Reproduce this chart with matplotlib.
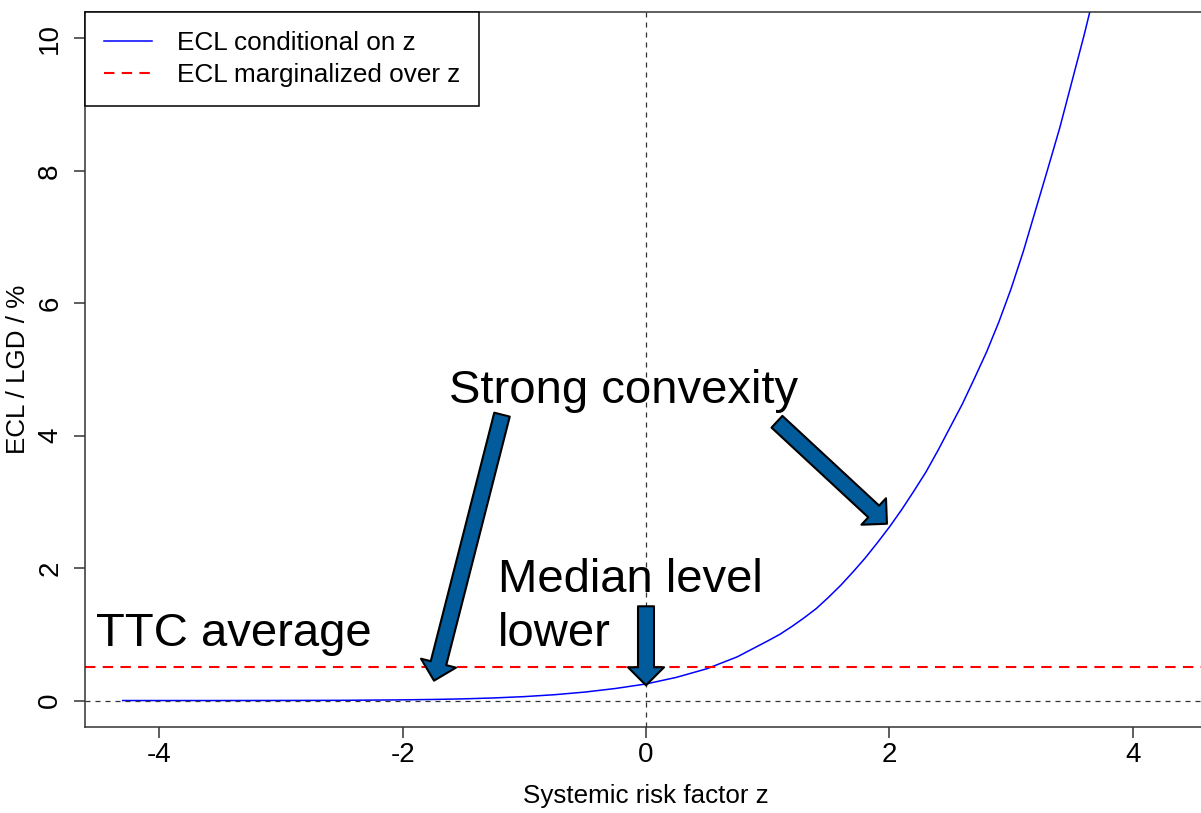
import matplotlib.pyplot as plt

plt.rcParams['font.family'] = ['Liberation Sans', 'DejaVu Sans']

# systemic risk factor z and ECL/LGD (%)
z = [-4.3, -4.0, -3.5, -3.0, -2.5, -2.0, -1.75, -1.5, -1.25, -1.0, -0.75, -0.5, -0.25,
     0.0, 0.25, 0.5, 0.75, 1.0, 1.1, 1.2, 1.3, 1.4, 1.5, 1.6, 1.7, 1.8, 1.9,
     2.0, 2.1, 2.2, 2.3, 2.4, 2.5, 2.6, 2.7, 2.8, 2.9,
     3.0, 3.1, 3.2, 3.3, 3.4, 3.5, 3.6, 3.7]
ecl_cond = [0.0, 0.0, 0.0, 0.001, 0.003, 0.010, 0.016, 0.025, 0.039, 0.059, 0.088, 0.128, 0.182,
            0.25, 0.35, 0.48, 0.66, 0.90, 1.00, 1.12, 1.25, 1.39, 1.56, 1.74, 1.94, 2.15, 2.38,
            2.62, 2.88, 3.16, 3.45, 3.78, 4.13, 4.48, 4.87, 5.27, 5.72,
            6.22, 6.78, 7.40, 8.02, 8.65, 9.35, 10.05, 10.80]
ecl_marg = 0.5

xticks = [-4, -2, 0, 2, 4]
xtick_labels = ['-4', '-2', '0', '2', '4']
yticks = [0, 2, 4, 6, 8, 10]
ytick_labels = ['0', '2', '4', '6', '8', '10']

fig = plt.figure(figsize=(12.01, 8.13), dpi=100)
ax = fig.add_axes([85 / 1201, 86 / 813, 1122 / 1201, 715 / 813])

ax.plot(z, ecl_cond, color='blue', lw=1.1, label='ECL conditional on z')
ax.axhline(ecl_marg, color='red', lw=1.5, ls=(0, (5, 3.5)), label='ECL marginalized over z')
ax.axhline(0, color='#333333', lw=0.9, ls=(0, (4, 4)))
ax.axvline(0, color='#333333', lw=0.9, ls=(0, (4, 4)))

ax.set_xlim(-4.61, 4.61)
ax.set_ylim(-0.4, 10.4)
ax.set_xticks(xticks)
ax.set_xticklabels(xtick_labels)
ax.set_yticks(yticks)
ax.set_yticklabels(ytick_labels, rotation=90, va='center')
ax.tick_params(direction='out', length=7.7, width=1.1, labelsize=20, color='#333333')
ax.tick_params(axis='x', pad=3)
ax.tick_params(axis='y', pad=8)
for s in ax.spines.values():
    s.set_linewidth(1.1)
    s.set_color('#333333')
ax.spines['right'].set_visible(False)

ax.set_xlabel('Systemic risk factor z', fontsize=18.7)
ax.xaxis.set_label_coords(0.5, -0.080)
ax.set_ylabel('ECL / LGD / %', fontsize=18.7, labelpad=5)

leg = ax.legend(loc='upper left', bbox_to_anchor=(0, 1), borderaxespad=0, fontsize=18.8,
                fancybox=False, framealpha=1, edgecolor='black', handlelength=1.85,
                handletextpad=0.95, borderpad=0.72, labelspacing=0.32)
leg.get_frame().set_linewidth(1.1)

# annotations
ax.text(-1.619, 4.50, 'Strong convexity', fontsize=34, va='baseline')
ax.text(-1.216, 1.646, 'Median level', fontsize=34, va='baseline')
ax.text(-1.216, 0.816, 'lower', fontsize=34, va='baseline')
ax.text(-4.519, 0.831, 'TTC average', fontsize=34, va='baseline')

arrow_kw = dict(arrowstyle='simple,head_length=13,head_width=26,tail_width=11.5',
                fc='#025b9a', ec='black', lw=1.5, shrinkA=0, shrinkB=0, mutation_scale=1)
ax.annotate('', xy=(-1.742, 0.30), xytext=(68, 266), textcoords='offset pixels',
            arrowprops=arrow_kw, zorder=5)
ax.annotate('', xy=(1.98, 2.67), xytext=(-110, 102), textcoords='offset pixels',
            arrowprops=arrow_kw, zorder=5)
ax.annotate('', xy=(0.0, 0.23), xytext=(0, 79), textcoords='offset pixels',
            arrowprops=arrow_kw, zorder=5)

fig.savefig('out.png', dpi=100)
